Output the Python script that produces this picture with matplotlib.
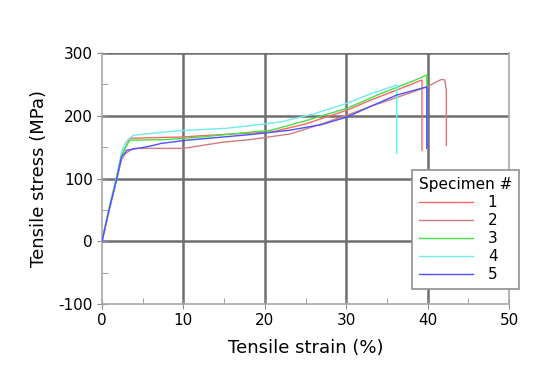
import matplotlib
matplotlib.use("Agg")
import matplotlib.pyplot as plt
from matplotlib.ticker import MultipleLocator

plt.rcParams["axes.unicode_minus"] = False

labels = ["1", "2", "3", "4", "5"]
colors = ["#ff6666", "#cc7e7e", "#44e044", "#70eaea", "#5050ff"]

s1_x = [0, 0.8, 1.8, 2.4, 2.9, 3.4, 6.0, 9.6, 12.0, 16.0, 20.8, 25.0, 30.1, 33.0, 36.2, 39.3, 39.3]
s1_y = [0, 47, 100, 137, 150, 164, 165, 166, 168, 171, 174, 187, 209, 225, 241, 257, 145]
s2_x = [0, 0.8, 1.8, 2.4, 2.9, 3.85, 7.0, 10.0, 14.9, 18.2, 23.1, 27.0, 30.1, 33.0, 36.2, 39.9, 41.7, 42.1, 42.3, 42.3]
s2_y = [0, 45, 98, 130, 140, 148, 148, 148, 158, 162, 171, 187, 201, 215, 229, 246, 258, 257, 240, 153]
s3_x = [0, 0.8, 1.8, 2.4, 2.9, 3.4, 7.9, 12.0, 16.0, 20.8, 25.0, 30.1, 34.0, 38.7, 39.9, 39.9]
s3_y = [0, 48, 101, 138, 150, 161, 162, 166, 171, 177, 192, 212, 234, 258, 265, 148]
s4_x = [0, 0.8, 1.8, 2.4, 2.9, 3.85, 9.2, 15.3, 21.9, 26.0, 30.1, 33.0, 36.2, 36.2]
s4_y = [0, 50, 104, 142, 158, 169, 176, 180, 190, 203, 220, 235, 249, 140]
s5_x = [0, 0.8, 1.8, 2.4, 2.9, 3.0, 5.7, 7.3, 10.4, 18.2, 23.1, 27.0, 30.1, 33.0, 36.2, 39.9, 39.9]
s5_y = [0, 47, 100, 135, 142, 145, 151, 156, 161, 170, 177, 186, 198, 215, 233, 246, 148]

series_x = [s1_x, s2_x, s3_x, s4_x, s5_x]
series_y = [s1_y, s2_y, s3_y, s4_y, s5_y]

fig = plt.figure(figsize=(5.5, 3.8), dpi=100)
ax = fig.add_axes([0.1855, 0.2, 0.74, 0.6605])

for xs, ys, c, lab in zip(series_x, series_y, colors, labels):
    ax.plot(xs, ys, color=c, lw=1.0, label=lab, zorder=3)

ax.set_xlim(0, 50)
ax.set_ylim(-100, 300)
ax.xaxis.set_major_locator(MultipleLocator(10))
ax.xaxis.set_minor_locator(MultipleLocator(5))
ax.yaxis.set_major_locator(MultipleLocator(100))
ax.yaxis.set_minor_locator(MultipleLocator(50))
ax.grid(True, which="major", color="#6e6e6e", lw=1.8, zorder=1)
ax.set_axisbelow(True)

# hide gridlines lying on the light frame edges (x=0, x=50, y=-100)
for gl, v in zip(ax.get_xgridlines(), ax.get_xticks()):
    if v in (0, 50):
        gl.set_visible(False)
for gl, v in zip(ax.get_ygridlines(), ax.get_yticks()):
    if v == -100:
        gl.set_visible(False)

ax.spines["top"].set_visible(False)
for side in ["left", "bottom", "right"]:
    ax.spines[side].set_color("#a8a8a8")
    ax.spines[side].set_linewidth(1.2)

ax.tick_params(which="major", direction="inout", length=7, color="#8a8a8a", labelsize=11, pad=3)
ax.tick_params(which="minor", direction="in", length=4, color="#909090")
ax.tick_params(right=False, which="both")

ax.set_xlabel("Tensile strain (%)", fontsize=13, labelpad=8)
ax.set_ylabel("Tensile stress (MPa)", fontsize=13, labelpad=8)

leg = ax.legend(title="Specimen #", loc="upper left", bbox_to_anchor=(0.762, 0.534),
                fontsize=11, title_fontsize=11, frameon=True, fancybox=False,
                edgecolor="#909090", framealpha=1.0, handlelength=3.5,
                labelspacing=0.2, borderpad=0.45, borderaxespad=0.0,
                handletextpad=1.0, alignment="left")
leg.get_frame().set_linewidth(1.2)
leg.set_zorder(5)

fig.savefig("out.png", dpi=100)
